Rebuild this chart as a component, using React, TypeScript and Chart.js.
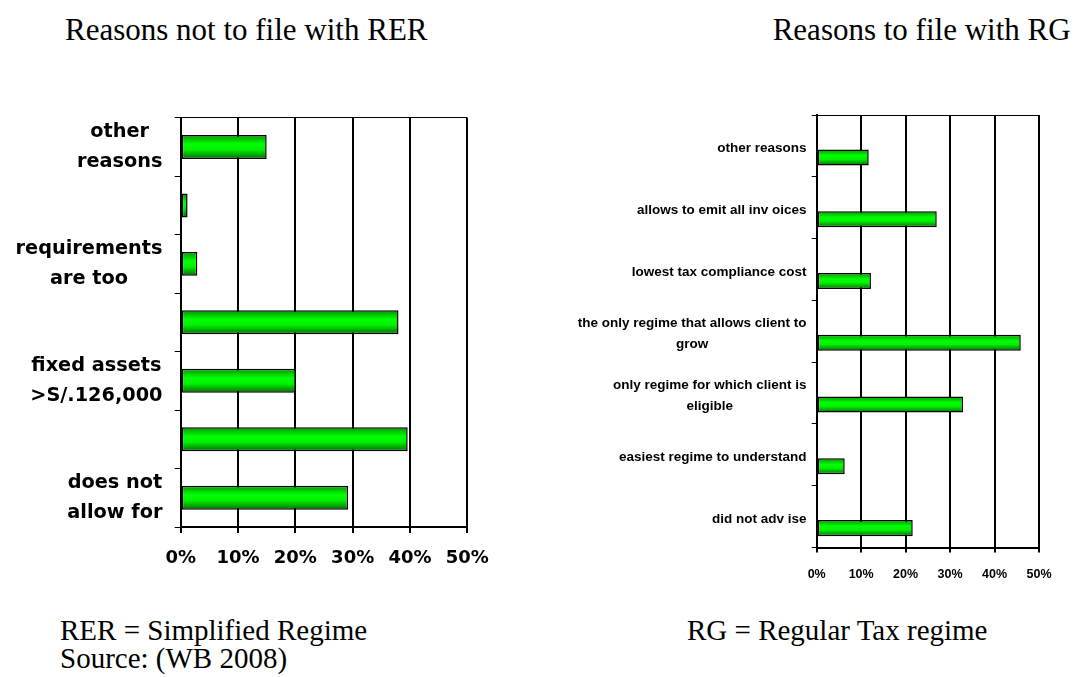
import React, { useEffect, useRef } from 'react';
import { Chart, registerables } from 'chart.js';

Chart.register(...registerables);

// ---------- data ----------
const rerCategories: (string | string[])[] = [
  ['other', 'reasons'],
  '',
  ['requirements', 'are too'],
  '',
  ['fixed assets', '>S/.126,000'],
  '',
  ['does not', 'allow for'],
];
const rerValues: number[] = [15.0, 1.2, 2.9, 38.0, 20.1, 39.6, 29.2];

const rgCategories: (string | string[])[] = [
  'other reasons',
  'allows to emit all inv oices',
  'lowest tax compliance cost',
  ['the only regime that allows client to', 'grow'],
  ['only regime for which client is', 'eligible'],
  'easiest regime to understand',
  'did not adv ise',
];
const rgValues: number[] = [11.7, 27.0, 12.2, 45.9, 32.9, 6.3, 21.6];
// empty companion series (occupies the upper slot of each category, as in the original)
const rgEmptySeries: (number | null)[] = [null, null, null, null, null, null, null];

const axisMin = 0;
const axisMax = 50;
const axisStep = 10;

// ---------- helpers ----------
const barFill = (c: any) => {
  const el = c.element;
  if (!el || typeof el.y !== 'number' || !isFinite(el.y) || !el.height) return '#00e000';
  const top = el.y - el.height / 2;
  const bot = el.y + el.height / 2;
  const g = c.chart.ctx.createLinearGradient(0, top, 0, bot);
  g.addColorStop(0, '#009400');
  g.addColorStop(0.38, '#00ff00');
  g.addColorStop(0.62, '#00f000');
  g.addColorStop(1, '#006a00');
  return g;
};

type LabelCfg = { font: string; gap: number; lineSpacing: number; shift: number };

const makeLabelPlugin = (cfg: LabelCfg) => ({
  id: 'centeredCategoryLabels',
  afterDraw(chart: any) {
    const yScale = chart.scales.y;
    const ctx = chart.ctx;
    ctx.save();
    ctx.font = cfg.font;
    ctx.fillStyle = '#000';
    ctx.textBaseline = 'alphabetic';
    ctx.textAlign = 'center';
    const right = chart.chartArea.left - cfg.gap;
    (chart.data.labels as (string | string[])[]).forEach((lab, i) => {
      const lines = Array.isArray(lab) ? lab : [lab];
      if (!lines.join('').length) return;
      const w = Math.max(...lines.map((l) => ctx.measureText(l).width));
      const cx = right - w / 2;
      const cy = yScale.getPixelForValue(i);
      const n = lines.length;
      lines.forEach((l, k) => {
        ctx.fillText(l, cx, cy + (k - (n - 1) / 2) * cfg.lineSpacing + cfg.shift);
      });
    });
    ctx.restore();
  },
});

type PanelCfg = {
  labels: (string | string[])[];
  datasets: any[];
  padding: { left: number; top: number; right: number; bottom: number };
  yWidth: number;
  xHeight: number;
  tickFont: any;
  tickPadding: number;
  tickLength: number;
  label: LabelCfg;
};

const buildConfig = (p: PanelCfg): any => ({
  type: 'bar',
  data: { labels: p.labels, datasets: p.datasets },
  options: {
    indexAxis: 'y',
    responsive: false,
    animation: false,
    devicePixelRatio: 1,
    layout: { padding: p.padding },
    plugins: {
      legend: { display: false },
      tooltip: { enabled: false },
      title: { display: false },
    },
    scales: {
      x: {
        type: 'linear',
        position: 'bottom',
        min: axisMin,
        max: axisMax,
        afterFit: (s: any) => {
          s.height = p.xHeight;
        },
        ticks: {
          stepSize: axisStep,
          callback: (v: any) => `${v}%`,
          font: p.tickFont,
          color: '#000',
          padding: p.tickPadding,
          maxRotation: 0,
          autoSkip: false,
        },
        grid: { color: '#000', lineWidth: 2, drawTicks: true, tickLength: p.tickLength },
        border: { display: true, color: '#000', width: 2 },
      },
      y: {
        type: 'category',
        position: 'left',
        afterFit: (s: any) => {
          s.width = p.yWidth;
        },
        ticks: { display: false, autoSkip: false },
        grid: {
          offset: true,
          drawOnChartArea: true,
          color: (c: any) => (c.index === 0 ? '#000' : 'rgba(0,0,0,0)'),
          tickColor: '#000',
          lineWidth: 1,
          tickLength: p.tickLength,
        },
        border: { display: true, color: '#000', width: 2 },
      },
    },
  },
  plugins: [makeLabelPlugin(p.label)],
});

function BarPanel({ cfg, left, top, width, height }: { cfg: PanelCfg; left: number; top: number; width: number; height: number }) {
  const ref = useRef<HTMLCanvasElement>(null);
  useEffect(() => {
    const chart = new Chart(ref.current as HTMLCanvasElement, buildConfig(cfg));
    chart.update(); // second pass: bar geometry known -> gradient fills
    return () => chart.destroy();
  }, []);
  return (
    <canvas
      ref={ref}
      width={width}
      height={height}
      style={{ position: 'absolute', left, top, width, height }}
    />
  );
}

const rerPanel: PanelCfg = {
  labels: rerCategories,
  datasets: [
    {
      label: 'Reasons not to file with RER',
      data: rerValues,
      backgroundColor: barFill,
      borderColor: '#000',
      borderWidth: 1.5,
      borderSkipped: false,
      categoryPercentage: 0.41,
      barPercentage: 1,
    },
  ],
  padding: { left: 0, top: 27.7, right: 72.7, bottom: 3 },
  yWidth: 180.7,
  xHeight: 60,
  tickFont: { family: '"DejaVu Sans"', weight: 'bold', size: 18 },
  tickPadding: 14.5,
  tickLength: 6,
  label: { font: 'bold 19.3px "DejaVu Sans"', gap: 18.2, lineSpacing: 29.5, shift: 5.3 },
};

const rgPanel: PanelCfg = {
  labels: rgCategories,
  datasets: [
    {
      label: '',
      data: rgEmptySeries,
      backgroundColor: barFill,
      borderColor: '#000',
      borderWidth: 1.5,
      borderSkipped: false,
      categoryPercentage: 0.746,
      barPercentage: 0.696,
    },
    {
      label: 'Reasons to file with RG',
      data: rgValues,
      backgroundColor: barFill,
      borderColor: '#000',
      borderWidth: 1.5,
      borderSkipped: false,
      categoryPercentage: 0.746,
      barPercentage: 0.696,
    },
  ],
  padding: { left: 0, top: 25, right: 47, bottom: 12.5 },
  yWidth: 256.7,
  xHeight: 50,
  tickFont: { family: '"Liberation Sans", Arial, sans-serif', weight: 'bold', size: 12.5 },
  tickPadding: 14.2,
  tickLength: 5,
  label: { font: 'bold 13.5px "Liberation Sans", Arial, sans-serif', gap: 10.2, lineSpacing: 21.5, shift: 6.4 },
};

const serif = '"Liberation Serif", "Times New Roman", Times, serif';

const titleStyle = (left: number): React.CSSProperties => ({
  position: 'absolute',
  left,
  top: 14,
  fontFamily: serif,
  fontSize: 31,
  lineHeight: '31px',
  whiteSpace: 'nowrap',
  color: '#000',
});

const footStyle = (left: number): React.CSSProperties => ({
  position: 'absolute',
  left,
  top: 616,
  fontFamily: serif,
  fontSize: 29,
  lineHeight: '28px',
  whiteSpace: 'nowrap',
  color: '#000',
});

export default function App() {
  return (
    <div
      style={{
        position: 'absolute',
        left: 0,
        top: 0,
        width: 1086,
        height: 677,
        background: '#fff',
        overflow: 'hidden',
      }}
    >
      <div style={titleStyle(65)}>Reasons not to file with RER</div>
      <div style={titleStyle(772.7)}>Reasons to file with RG</div>
      <BarPanel cfg={rerPanel} left={0} top={90} width={540} height={500} />
      <BarPanel cfg={rgPanel} left={560} top={90} width={526} height={520} />
      <div style={footStyle(60)}>
        RER = Simplified Regime
        <br />
        Source: (WB 2008)
      </div>
      <div style={footStyle(687)}>RG = Regular Tax regime</div>
    </div>
  );
}
